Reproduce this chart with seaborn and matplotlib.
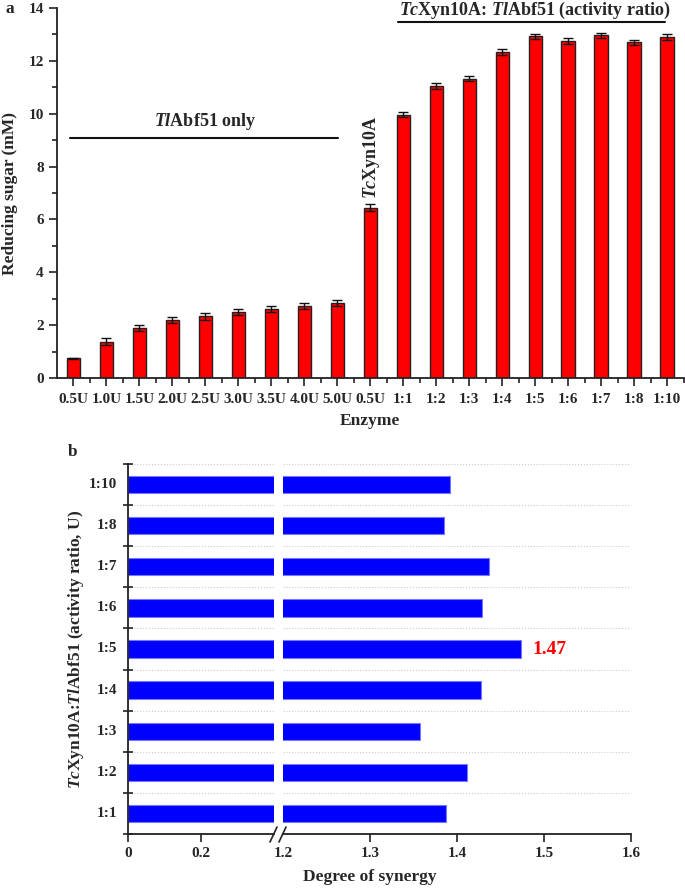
import numpy as np
import pandas as pd
import matplotlib
matplotlib.use('Agg')
import matplotlib.pyplot as plt
from matplotlib.lines import Line2D
from matplotlib.ticker import FixedLocator, MultipleLocator
import seaborn as sns

# ---- data: panel a ----
enzymes = ['0.5U', '1.0U', '1.5U', '2.0U', '2.5U', '3.0U', '3.5U', '4.0U', '5.0U',
           '0.5U ', '1:1', '1:2', '1:3', '1:4', '1:5', '1:6', '1:7', '1:8', '1:10']
sugar = [0.75, 1.38, 1.90, 2.20, 2.33, 2.50, 2.60, 2.73, 2.85,
         6.45, 9.97, 11.05, 11.32, 12.33, 12.93, 12.75, 12.97, 12.70, 12.90]
sugar_err = [0.02, 0.12, 0.12, 0.11, 0.12, 0.11, 0.11, 0.11, 0.11,
             0.12, 0.10, 0.10, 0.10, 0.10, 0.10, 0.10, 0.10, 0.10, 0.10]

# ---- data: panel b ----
ratios = ['1:1', '1:2', '1:3', '1:4', '1:5', '1:6', '1:7', '1:8', '1:10']
synergy = [1.387, 1.412, 1.358, 1.428, 1.474, 1.429, 1.437, 1.385, 1.392]

sns.set_theme(style='ticks')
plt.rcParams['font.family'] = ['Liberation Serif', 'DejaVu Serif']
plt.rcParams['font.weight'] = 'bold'
plt.rcParams['axes.labelweight'] = 'bold'
plt.rcParams['mathtext.fontset'] = 'custom'
plt.rcParams['mathtext.rm'] = 'Liberation Serif:bold'
plt.rcParams['mathtext.it'] = 'Liberation Serif:italic:bold'
plt.rcParams['mathtext.bf'] = 'Liberation Serif:bold'

TICK_FS = 11
LABEL_FS = 12.5
ANNOT_FS = 13

W, H = 685, 888
fig = plt.figure(figsize=(W / 100, H / 100), dpi=100)

def fx(px):
    return px / W

def fy(py):
    return 1 - py / H

# ==============================
# Panel a
# ==============================
ax1 = fig.add_axes([fx(57), fy(378), fx(683.5) - fx(57), fy(8) - fy(378)])
df_a = pd.DataFrame({'Enzyme': enzymes, 'Sugar': sugar})
sns.barplot(data=df_a, x='Enzyme', y='Sugar', order=enzymes, color='#ff0000',
            saturation=1, width=0.4, edgecolor='#222222', linewidth=1.0, ax=ax1)
ax1.errorbar(np.arange(len(enzymes)), sugar, yerr=sugar_err, fmt='none',
             ecolor='#111111', elinewidth=1.0, capsize=3.5, capthick=1.0)
ax1.set_xlim(-0.5, len(enzymes) - 0.5)
ax1.set_ylim(0, 14)
ax1.yaxis.set_major_locator(MultipleLocator(2))
ax1.yaxis.set_minor_locator(MultipleLocator(1))
ax1.xaxis.set_minor_locator(FixedLocator(np.arange(len(enzymes)) + 0.5))
ax1.tick_params(axis='both', which='major', direction='out', length=6, width=1.2,
                labelsize=TICK_FS, color='#222222')
ax1.tick_params(axis='x', which='major', pad=5)
ax1.tick_params(axis='both', which='minor', direction='out', length=3.5, width=1.2,
                color='#222222')
ax1.set_xticks(np.arange(len(enzymes)))
ax1.set_xticklabels([e.strip() for e in enzymes], fontweight='bold')
for t in ax1.get_yticklabels():
    t.set_fontweight('bold')
ax1.set_xlabel('Enzyme', fontsize=LABEL_FS, fontweight='bold', labelpad=5)
ax1.set_ylabel('')
fig.text(fx(10), fy(193), 'Reducing sugar (mM)', rotation=90, ha='center',
         va='center', fontsize=LABEL_FS, fontweight='bold')
sns.despine(ax=ax1)
for s in ['left', 'bottom']:
    ax1.spines[s].set_linewidth(1.3)
    ax1.spines[s].set_color('#222222')

# annotations
ax1.plot([-0.1, 8.03], [9.08, 9.08], color='#111111', lw=1.5, clip_on=False)
ax1.text(4.0, 9.3, r'$\mathit{Tl}$Abf51 only', ha='center', va='bottom',
         fontsize=ANNOT_FS, fontweight='bold')
ax1.plot([9.85, 17.94], [13.47, 13.47], color='#111111', lw=1.5, clip_on=False)
ax1.text(14.0, 13.9, r'$\mathit{Tc}$Xyn10A: $\mathit{Tl}$Abf51 (activity ratio)',
         ha='center', va='center', fontsize=ANNOT_FS, fontweight='bold', clip_on=False)
ax1.text(9.05, 8.36, r'$\mathit{Tc}$Xyn10A', rotation=90, ha='center', va='center',
         fontsize=ANNOT_FS, fontweight='bold')
fig.text(fx(5), fy(9), 'a', fontsize=12.5, fontweight='bold', ha='left', va='center')

# ==============================
# Panel b (broken x axis)
# ==============================
order_b = ratios[::-1]
df_b = pd.DataFrame({'Ratio': ratios, 'Synergy': synergy})
bottom_b, top_b = fy(834), fy(464)
axL = fig.add_axes([fx(128), bottom_b, fx(274) - fx(128), top_b - bottom_b])
axR = fig.add_axes([fx(283), bottom_b, fx(631) - fx(283), top_b - bottom_b])

for ax in (axL, axR):
    sns.barplot(data=df_b, x='Synergy', y='Ratio', order=order_b, orient='h',
                color='#0000ff', saturation=1, width=0.42, edgecolor='#7777ff',
                linewidth=0.8, ax=ax)
    ax.set_ylim(len(order_b) - 0.5, -0.5)
    ax.set_xlabel('')
    ax.set_ylabel('')
    ax.yaxis.set_major_locator(FixedLocator(np.arange(len(order_b) + 1) - 0.5))
    ax.grid(axis='y', linestyle=':', color='#cccccc', linewidth=0.8)
    ax.set_axisbelow(True)
    ax.tick_params(axis='x', direction='out', length=6, width=1.2, labelsize=TICK_FS,
                   color='#222222')
    ax.spines['bottom'].set_linewidth(1.3)
    ax.spines['bottom'].set_color('#222222')

axL.set_xlim(0, 0.4)
axL.set_xticks([0, 0.2])
axL.set_xticklabels(['0', '0.2'], fontweight='bold')
axL.tick_params(axis='y', direction='inout', length=7, width=1.2,
                labelleft=False, color='#222222')
for i, lab in enumerate(order_b):
    axL.text(-0.03, i, lab, ha='right', va='center', fontsize=TICK_FS, fontweight='bold')
sns.despine(ax=axL)
axL.spines['left'].set_linewidth(1.3)
axL.spines['left'].set_color('#222222')

axR.set_xlim(1.2, 1.6)
axR.set_xticks([1.2, 1.3, 1.4, 1.5, 1.6])
axR.set_xticklabels(['1.2', '1.3', '1.4', '1.5', '1.6'], fontweight='bold')
axR.tick_params(axis='y', left=False, labelleft=False)
axR.get_xticklines()[0].set_visible(False)
sns.despine(ax=axR, left=True)

i5 = order_b.index('1:5')
axR.text(synergy[ratios.index('1:5')] + 0.013, i5, '1.47', color='#ff0000',
         ha='left', va='center', fontsize=14, fontweight='bold')

# break marks
for x0 in (270, 279):
    fig.add_artist(Line2D([fx(x0), fx(x0 + 7)], [fy(842), fy(827)],
                          color='#222222', lw=1.2))

fig.text(fx(370), fy(877), 'Degree of synergy', ha='center', va='center',
         fontsize=LABEL_FS, fontweight='bold')
fig.text(fx(76), fy(649), r'$\mathit{Tc}$Xyn10A:$\mathit{Tl}$Abf51 (activity ratio, U)',
         rotation=90, ha='center', va='center', fontsize=LABEL_FS, fontweight='bold')
fig.text(fx(68), fy(452), 'b', fontsize=12.5, fontweight='bold', ha='left', va='center')

plt.savefig('out.png', dpi=100, facecolor='white')
plt.close()
